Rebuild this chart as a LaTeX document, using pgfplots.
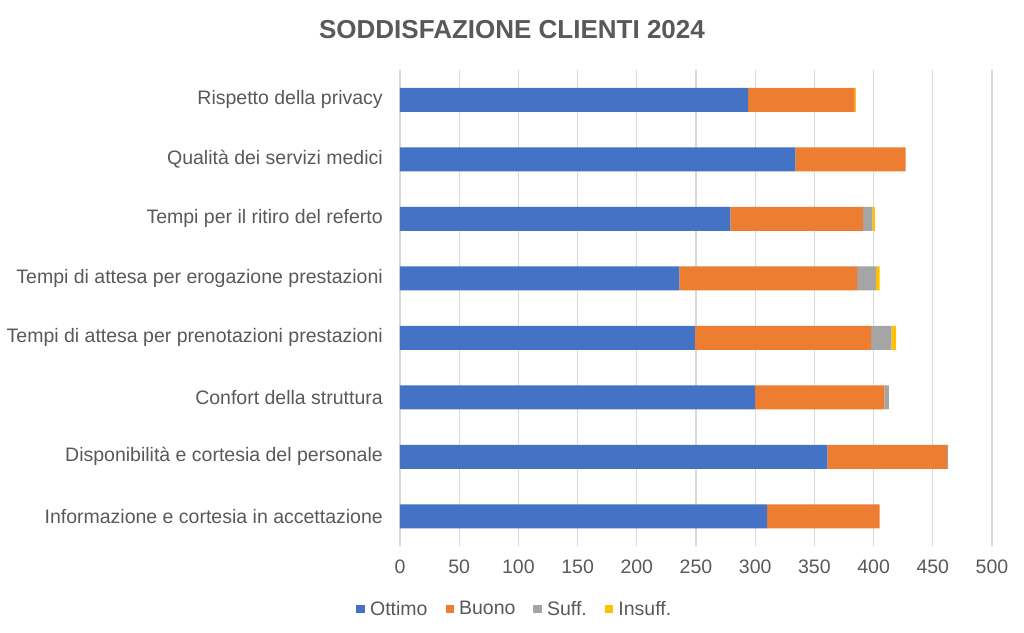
\documentclass[border=0pt]{standalone}
\usepackage{fontspec}
\setmainfont{Liberation Sans}
\usepackage{pgfplots}
\pgfplotsset{compat=1.18}
\definecolor{cO}{HTML}{4472C4}
\definecolor{cB}{HTML}{ED7D31}
\definecolor{cS}{HTML}{A5A5A5}
\definecolor{cI}{HTML}{FFC000}
\definecolor{txt}{HTML}{595959}
\definecolor{gridc}{HTML}{D9D9D9}
\begin{document}
\begin{tikzpicture}[x=1pt,y=1pt]
\path[use as bounding box] (-400,-86) rectangle (624,546);
\begin{axis}[at={(0,0)}, anchor=south west, scale only axis,
  width=592pt, height=476pt,
  xbar stacked, bar width=24pt,
  xmin=0, xmax=500, ymin=-0.5, ymax=7.5,
  xtick={0,50,...,500}, ytick={0,...,7},
  yticklabels={Informazione e cortesia in accettazione,
    Disponibilità e cortesia del personale,
    Confort della struttura,
    Tempi di attesa per prenotazioni prestazioni,
    Tempi di attesa per erogazione prestazioni,
    Tempi per il ritiro del referto,
    Qualità dei servizi medici,
    Rispetto della privacy},
  xmajorgrids, major grid style={gridc, line width=1.2pt},
  axis line style={draw=none}, major tick length=0pt,
  /pgf/number format/assume math mode=true,
  ticklabel style={font=\fontsize{19.5}{22}\selectfont, text=txt},
  yticklabel style={anchor=east, inner sep=0pt, xshift=-17pt},
  xticklabel style={anchor=north, inner sep=0pt, yshift=-14pt},
  legend style={at={(0.194,-0.132)}, anchor=center, draw=none,
    font=\fontsize{19.5}{22}\selectfont, text=txt, legend columns=4,
    /tikz/every odd column/.append style={column sep=3pt},
    /tikz/every even column/.append style={column sep=16pt},
    inner sep=0pt},
  legend image code/.code={\fill[#1] (0pt,-4.3pt) rectangle (8.6pt,4.3pt);},
  every axis plot/.append style={draw=none},
]
\addplot[fill=cO] coordinates {(310,0) (361,1) (300,2) (249,3) (236,4) (279,5) (334,6) (294,7)};
\addplot[fill=cB] coordinates {(95,0) (101,1) (109,2) (149,3) (150,4) (112,5) (93,6) (90,7)};
\addplot[fill=cS] coordinates {(0,0) (1,1) (4,2) (17,3) (16,4) (8,5) (0,6) (0,7)};
\addplot[fill=cI] coordinates {(0,0) (0,1) (0,2) (4,3) (3,4) (2,5) (0,6) (1,7)};
\legend{Ottimo, Buono, Suff., Insuff.}
\end{axis}
\node[font=\bfseries\fontsize{26}{30}\selectfont, text=txt] at (112,516) {SODDISFAZIONE CLIENTI 2024};
\end{tikzpicture}
\end{document}
